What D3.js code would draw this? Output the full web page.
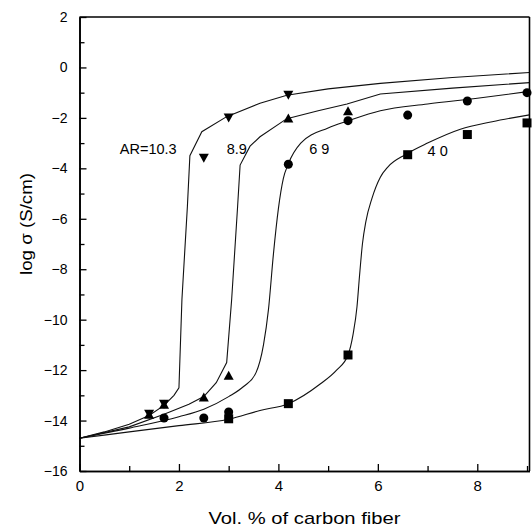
<!DOCTYPE html>
<html>
<head>
<meta charset="utf-8">
<script src="https://cdn.jsdelivr.net/npm/d3@7"></script>
<style>
  body { margin: 0; background: #fff; }
  svg { display: block; font-family: "Liberation Sans", Arial, sans-serif; }
</style>
</head>
<body>
<div id="chart"></div>
<script>
// series labels (aspect ratio)
const seriesNames = ["AR=10.3", "8.9", "6 9", "4 0"];

const ar103X = [1.4, 1.7, 2.5, 3.0, 4.2];
const ar103Y = [-13.75, -13.35, -3.6, -2.0, -1.1];
const ar89X = [1.4, 1.7, 2.5, 3.0, 4.2, 5.4];
const ar89Y = [-13.75, -13.35, -13.07, -12.2, -2.0, -1.72];
const ar69X = [1.7, 2.5, 3.0, 4.2, 5.4, 6.6, 7.8, 9.0];
const ar69Y = [-13.9, -13.9, -13.66, -3.84, -2.11, -1.89, -1.33, -1.0];
const ar40X = [3.0, 4.2, 5.4, 6.6, 7.8, 9.0];
const ar40Y = [-13.93, -13.33, -11.4, -3.46, -2.66, -2.2];

// fitted curves
const fit103X = [0, 0.5, 1.0, 1.4, 1.7, 1.9, 2.0, 2.06, 2.17, 2.22, 2.46, 2.96, 3.63, 4.17, 5.0, 6.05, 7.5, 9.05];
const fit103Y = [-14.7, -14.45, -14.15, -13.8, -13.4, -13.0, -12.7, -9.2, -5.5, -3.5, -2.55, -1.95, -1.42, -1.1, -0.85, -0.63, -0.4, -0.2];
const fit89X = [0, 1.0, 1.7, 2.2, 2.5, 2.75, 2.96, 3.06, 3.18, 3.23, 3.43, 3.63, 4.17, 4.8, 5.38, 6.05, 7.5, 9.05];
const fit89Y = [-14.7, -14.25, -13.75, -13.35, -13.05, -12.5, -11.7, -9.2, -5.5, -3.87, -3.12, -2.75, -2.03, -1.72, -1.45, -1.05, -0.82, -0.6];
const fit69X = [0, 1.0, 2.0, 2.5, 3.0, 3.3, 3.55, 3.7, 3.8, 3.9, 4.0, 4.1, 4.2, 4.45, 5.0, 5.4, 6.05, 7.0, 8.0, 9.05];
const fit69Y = [-14.7, -14.3, -13.85, -13.55, -13.05, -12.65, -12.1, -11.0, -9.6, -7.4, -5.6, -4.4, -3.82, -3.0, -2.4, -2.12, -1.72, -1.45, -1.22, -0.95];
const fit40X = [0, 1.0, 2.0, 3.0, 3.63, 4.2, 4.84, 5.17, 5.4, 5.5, 5.58, 5.63, 5.69, 5.76, 5.88, 6.05, 6.2, 6.56, 7.0, 7.66, 8.3, 9.05];
const fit40Y = [-14.7, -14.45, -14.2, -13.95, -13.6, -13.33, -12.55, -12.0, -11.4, -10.6, -9.5, -8.3, -7.0, -6.1, -5.2, -4.35, -3.95, -3.45, -3.0, -2.45, -2.15, -1.88];

// axis ticks
const xTicks = [0, 2, 4, 6, 8];
const xMinorTicks = [1, 3, 5, 7, 9];
const yTicks = [2, 0, -2, -4, -6, -8, -10, -12, -14, -16];
const yMinorTicks = [1, -1, -3, -5, -7, -9, -11, -13, -15];

document.addEventListener('DOMContentLoaded', function() {
    const W = 532, H = 528;
    const plot = { left: 79.5, right: 529.5, top: 17, bottom: 471 };

    const svg = d3.select("#chart").append("svg")
        .attr("width", W)
        .attr("height", H);

    const x = d3.scaleLinear().domain([0, 9.05]).range([plot.left, plot.right]);
    const y = d3.scaleLinear().domain([-16, 2]).range([plot.bottom, plot.top]);

    const zip = (xs, ys) => xs.map((v, i) => [v, ys[i]]);

    // curves first
    const fits = [
        { pts: zip(fit103X, fit103Y), curve: d3.curveLinear },
        { pts: zip(fit89X, fit89Y), curve: d3.curveLinear },
        { pts: zip(fit69X, fit69Y), curve: d3.curveMonotoneX },
        { pts: zip(fit40X, fit40Y), curve: d3.curveMonotoneX }
    ];
    fits.forEach(f => {
        svg.append("path")
            .attr("d", d3.line().x(d => x(d[0])).y(d => y(d[1])).curve(f.curve)(f.pts))
            .attr("fill", "none")
            .attr("stroke", "#111")
            .attr("stroke-width", 1.1);
    });

    // marker shapes (centred on their bounding box)
    const s = 5, h = 9;
    const shapes = {
        down: `M${-s},${-h / 2}L${s},${-h / 2}L0,${h / 2}Z`,
        up: `M0,${-h / 2}L${s},${h / 2}L${-s},${h / 2}Z`,
        square: "M-4.5,-4.5H4.5V4.5H-4.5Z",
        circle: d3.symbol(d3.symbolCircle, 64)()
    };

    const markers = [
        { pts: zip(ar103X, ar103Y), shape: shapes.down },
        { pts: zip(ar89X, ar89Y), shape: shapes.up },
        { pts: zip(ar69X, ar69Y), shape: shapes.circle },
        { pts: zip(ar40X, ar40Y), shape: shapes.square }
    ];
    markers.forEach(m => {
        svg.append("g").selectAll("path")
            .data(m.pts)
            .enter().append("path")
            .attr("d", m.shape)
            .attr("transform", d => `translate(${x(d[0])},${y(d[1])})`)
            .attr("fill", "#000");
    });

    // axes
    const axisStyle = g => {
        g.select(".domain").attr("stroke", "#000").attr("stroke-width", 1.6);
        g.selectAll(".tick line").attr("stroke", "#000").attr("stroke-width", 1.3);
        g.selectAll("text").attr("fill", "#000").style("font-family", "Liberation Sans, Arial, sans-serif");
    };

    svg.append("g")
        .attr("transform", `translate(${plot.left},0)`)
        .call(d3.axisLeft(y).tickValues(yMinorTicks).tickSize(-5).tickSizeOuter(0).tickFormat(""))
        .call(axisStyle);
    svg.append("g")
        .attr("transform", `translate(${plot.left},0)`)
        .call(d3.axisLeft(y).tickValues(yTicks).tickSize(-7).tickSizeOuter(0).tickPadding(12).tickFormat(d3.format("d")))
        .call(axisStyle)
        .selectAll("text").style("font-size", "14px");

    svg.append("g")
        .attr("transform", `translate(0,${plot.bottom})`)
        .call(d3.axisBottom(x).tickValues(xMinorTicks).tickSize(-5).tickSizeOuter(0).tickFormat(""))
        .call(axisStyle);
    svg.append("g")
        .attr("transform", `translate(0,${plot.bottom})`)
        .call(d3.axisBottom(x).tickValues(xTicks).tickSize(-7).tickSizeOuter(0).tickPadding(9).tickFormat(d3.format("d")))
        .call(axisStyle)
        .selectAll("text").style("font-size", "15px");

    // frame: top and right
    svg.append("line")
        .attr("x1", plot.left).attr("x2", plot.right)
        .attr("y1", plot.top).attr("y2", plot.top)
        .attr("stroke", "#000").attr("stroke-width", 1.6);
    svg.append("line")
        .attr("x1", plot.right).attr("x2", plot.right)
        .attr("y1", plot.top).attr("y2", plot.bottom)
        .attr("stroke", "#000").attr("stroke-width", 1.6);

    // curve labels
    const labelPos = [[0.81, -3.44], [2.96, -3.44], [4.62, -3.44], [7.0, -3.52]];
    seriesNames.forEach((t, i) => {
        svg.append("text")
            .attr("x", x(labelPos[i][0]))
            .attr("y", y(labelPos[i][1]))
            .style("font-size", "14.5px")
            .text(t);
    });

    // axis titles
    svg.append("text")
        .attr("x", (plot.left + plot.right) / 2)
        .attr("y", 524)
        .attr("text-anchor", "middle")
        .attr("textLength", 192)
        .attr("lengthAdjust", "spacingAndGlyphs")
        .style("font-size", "17px")
        .text("Vol. % of carbon fiber");

    svg.append("text")
        .attr("transform", "translate(32,224) rotate(-90)")
        .attr("text-anchor", "middle")
        .attr("textLength", 102)
        .attr("lengthAdjust", "spacingAndGlyphs")
        .style("font-size", "17px")
        .text("log σ (S/cm)");
});
</script>
</body>
</html>
